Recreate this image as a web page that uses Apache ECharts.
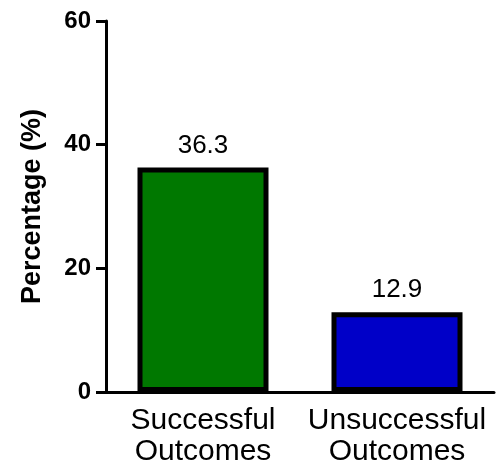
<!DOCTYPE html>
<html>
<head>
<meta charset="utf-8">
<script src="https://cdn.jsdelivr.net/npm/echarts@6/dist/echarts.min.js"></script>
<style>html,body{margin:0;padding:0;background:#fff}#c{width:498px;height:468px}</style>
</head>
<body>
<div id="c"></div>
<script>
const categories = ['Successful\nOutcomes', 'Unsuccessful\nOutcomes'];
const values = [36.3, 12.9];
const barColors = ['#007800', '#0000C8'];
const yTicks = [0, 20, 40, 60];

const chart = echarts.init(document.getElementById('c'), null, {renderer: 'canvas'});
const font = 'Liberation Sans, Arial, sans-serif';
chart.setOption({
  animation: false,
  backgroundColor: '#fff',
  grid: {left: 106, right: 4, top: 21, bottom: 76},
  xAxis: {
    type: 'category',
    data: categories,
    axisLine: {lineStyle: {color: '#000', width: 3}},
    axisTick: {alignWithLabel: true, length: 9, lineStyle: {color: '#000', width: 3}},
    axisLabel: {interval: 0, color: '#000', fontFamily: font, fontSize: 30, lineHeight: 31, margin: 13}
  },
  yAxis: {
    type: 'value',
    min: yTicks[0], max: yTicks[yTicks.length - 1], interval: 20,
    name: 'Percentage (%)',
    nameLocation: 'middle',
    nameGap: 60,
    nameTextStyle: {color: '#000', fontFamily: font, fontSize: 27, fontWeight: 'bold'},
    splitLine: {show: false},
    axisLine: {show: true, lineStyle: {color: '#000', width: 3}},
    axisTick: {show: true, length: 10, lineStyle: {color: '#000', width: 3}},
    axisLabel: {color: '#000', fontFamily: font, fontSize: 24, fontWeight: 'bold', margin: 15}
  },
  series: [{
    type: 'bar',
    barWidth: 131,
    data: values.map((v, i) => ({value: v, itemStyle: {color: barColors[i]}})),
    itemStyle: {borderColor: '#000', borderWidth: 5},
    label: {show: true, position: 'top', distance: 9, color: '#000', fontFamily: font, fontSize: 26}
  }]
});
</script>
</body>
</html>
